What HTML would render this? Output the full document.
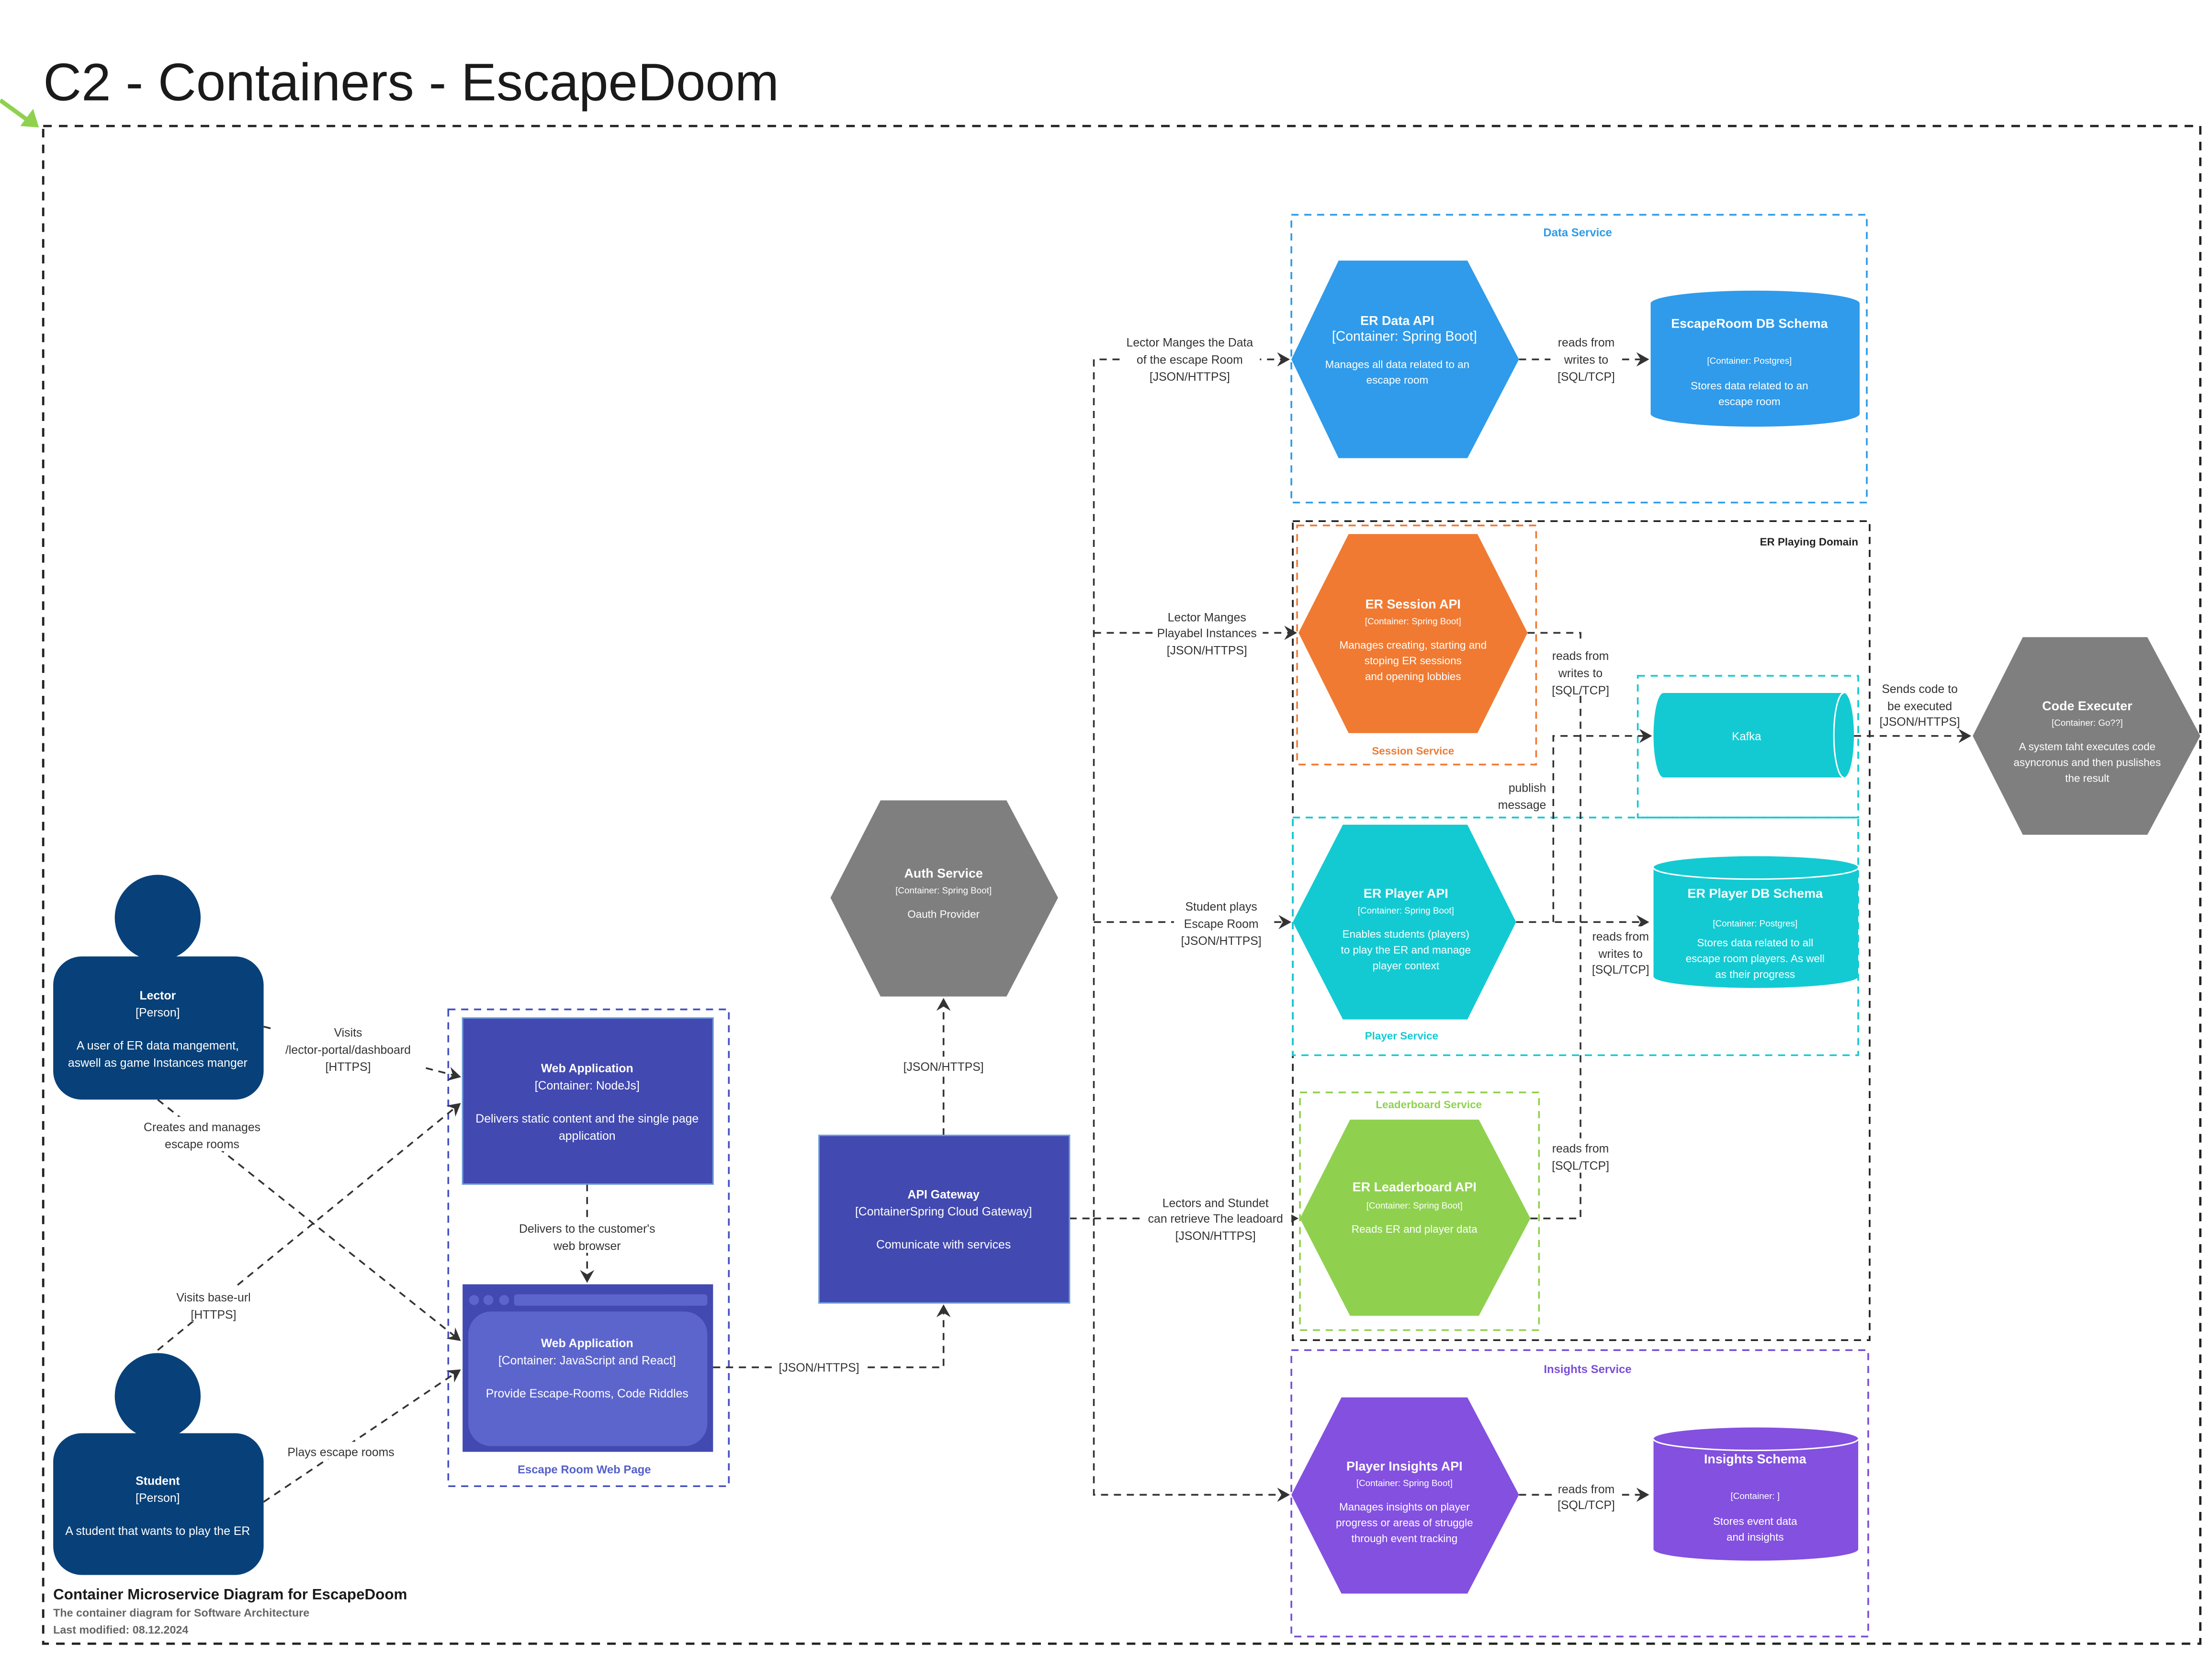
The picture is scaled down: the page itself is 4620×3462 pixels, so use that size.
<!DOCTYPE html>
<html><head><meta charset="utf-8"><style>
html,body{margin:0;padding:0;background:#fff;}
svg{display:block;}
text{font-family:"Liberation Sans",sans-serif;}
</style></head><body>
<svg width="4620" height="3462" viewBox="0 0 1545 1158" xmlns="http://www.w3.org/2000/svg">
<defs>
<marker id="a" markerWidth="10" markerHeight="10" refX="8" refY="5" orient="auto" markerUnits="userSpaceOnUse">
<path d="M0,0 L9,5 L0,10 L3,5 Z" fill="#333"/>
</marker>
</defs>
<rect width="1545" height="1158" fill="#fff"/>
<!-- title -->
<text x="30" y="70" font-size="37" fill="#1a1a1a">C2 - Containers - EscapeDoom</text>
<path d="M0,70 L22,86" stroke="#8fd14f" stroke-width="3"/>
<path d="M14,88 L27,89 L23,76 Z" fill="#8fd14f"/>
<rect x="30" y="88" width="1507" height="1060" fill="none" stroke="#222" stroke-width="1.6" stroke-dasharray="6,5"/>

<!-- boundaries -->
<rect x="902" y="150" width="402" height="201" fill="none" stroke="#2e9be8" stroke-width="1.2" stroke-dasharray="5,4"/>
<text x="1102" y="165" font-size="8" font-weight="bold" fill="#2e9be8" text-anchor="middle">Data Service</text>
<rect x="903" y="364" width="403" height="572" fill="none" stroke="#222" stroke-width="1.2" stroke-dasharray="5,4"/>
<text x="1298" y="381" font-size="7.5" font-weight="bold" fill="#222" text-anchor="end">ER Playing Domain</text>
<rect x="906" y="367" width="167" height="167" fill="none" stroke="#f07a32" stroke-width="1.2" stroke-dasharray="5,4"/>
<text x="987" y="527" font-size="7.5" font-weight="bold" fill="#f07a32" text-anchor="middle">Session Service</text>
<rect x="1144" y="472" width="154" height="99" fill="none" stroke="#13cad2" stroke-width="1.2" stroke-dasharray="5,4"/>
<rect x="903" y="571" width="395" height="166" fill="none" stroke="#13cad2" stroke-width="1.2" stroke-dasharray="5,4"/>
<text x="979" y="726" font-size="7.5" font-weight="bold" fill="#13cad2" text-anchor="middle">Player Service</text>
<rect x="908" y="763" width="167" height="166" fill="none" stroke="#8fd14f" stroke-width="1.2" stroke-dasharray="5,4"/>
<text x="998" y="774" font-size="7.5" font-weight="bold" fill="#8fd14f" text-anchor="middle">Leaderboard Service</text>
<rect x="902" y="943" width="403" height="200" fill="none" stroke="#7a4ed8" stroke-width="1.2" stroke-dasharray="5,4"/>
<text x="1109" y="959" font-size="8" font-weight="bold" fill="#7a4ed8" text-anchor="middle">Insights Service</text>
<rect x="313" y="705" width="196" height="333" fill="none" stroke="#4450c0" stroke-width="1.2" stroke-dasharray="5,4"/>
<text x="408" y="1029" font-size="8" font-weight="bold" fill="#5560c8" text-anchor="middle">Escape Room Web Page</text>

<!-- connectors -->
<g fill="none" stroke="#333" stroke-width="1.2" stroke-dasharray="5,4">
<path d="M747,851 L764,851 L764,251 L900,251" marker-end="url(#a)"/>
<path d="M764,442 L905,442" marker-end="url(#a)"/>
<path d="M764,644 L901,644" marker-end="url(#a)"/>
<path d="M764,851 L906,851" marker-end="url(#a)"/>
<path d="M764,851 L764,1044 L900,1044" marker-end="url(#a)"/>
<path d="M1061,251 L1151,251" marker-end="url(#a)"/>
<path d="M1067,442 L1104,442 L1104,644"/>
<path d="M1069,851 L1104,851 L1104,644"/>
<path d="M1059,644 L1151,644" marker-end="url(#a)"/>
<path d="M1085,644 L1085,514 L1153,514" marker-end="url(#a)"/>
<path d="M1295,514 L1376,514" marker-end="url(#a)"/>
<path d="M1061,1044 L1151,1044" marker-end="url(#a)"/>
<path d="M659,793 L659,698" marker-end="url(#a)"/>
<path d="M498,955 L659,955 L659,912" marker-end="url(#a)"/>
<path d="M410,827 L410,895" marker-end="url(#a)"/>
<path d="M184,717 L321,752" marker-end="url(#a)"/>
<path d="M110,768 L321,936" marker-end="url(#a)"/>
<path d="M110,943 L321,771" marker-end="url(#a)"/>
<path d="M184,1049 L321,957" marker-end="url(#a)"/>
</g>

<!-- connector labels -->
<g font-size="8.3" fill="#333" text-anchor="middle">
<rect x="782" y="232" width="98" height="36" fill="#fff"/>
<text x="831" y="242">Lector Manges the Data</text><text x="831" y="254">of the escape Room</text><text x="831" y="266">[JSON/HTTPS]</text>
<rect x="806" y="424" width="76" height="36" fill="#fff"/>
<text x="843" y="434">Lector Manges</text><text x="843" y="445">Playabel Instances</text><text x="843" y="457">[JSON/HTTPS]</text>
<rect x="820" y="626" width="66" height="36" fill="#fff"/>
<text x="853" y="636">Student plays</text><text x="853" y="648">Escape Room</text><text x="853" y="660">[JSON/HTTPS]</text>
<rect x="796" y="833" width="106" height="36" fill="#fff"/>
<text x="849" y="843">Lectors and Stundet</text><text x="849" y="854">can retrieve The leadoard</text><text x="849" y="866">[JSON/HTTPS]</text>
<rect x="1083" y="232" width="50" height="36" fill="#fff"/>
<text x="1108" y="242">reads from</text><text x="1108" y="254">writes to</text><text x="1108" y="266">[SQL/TCP]</text>
<rect x="1080" y="450" width="48" height="36" fill="#fff"/>
<text x="1104" y="461">reads from</text><text x="1104" y="473">writes to</text><text x="1104" y="485">[SQL/TCP]</text>
<rect x="1108" y="647" width="48" height="36" fill="#fff"/>
<text x="1132" y="657">reads from</text><text x="1132" y="669">writes to</text><text x="1132" y="680">[SQL/TCP]</text>
<rect x="1080" y="795" width="48" height="24" fill="#fff"/>
<text x="1104" y="805">reads from</text><text x="1104" y="817">[SQL/TCP]</text>
<rect x="1084" y="1032" width="48" height="24" fill="#fff"/>
<text x="1108" y="1043">reads from</text><text x="1108" y="1054">[SQL/TCP]</text>
<text x="1080" y="553" text-anchor="end">publish</text><text x="1080" y="565" text-anchor="end">message</text>
<rect x="1308" y="473" width="66" height="36" fill="#fff"/>
<text x="1341" y="484">Sends code to</text><text x="1341" y="496">be executed</text><text x="1341" y="507">[JSON/HTTPS]</text>
<rect x="628" y="738" width="62" height="12" fill="#fff"/>
<text x="659" y="748">[JSON/HTTPS]</text>
<rect x="542" y="948" width="62" height="12" fill="#fff"/>
<text x="572" y="958">[JSON/HTTPS]</text>
<rect x="355" y="851" width="110" height="24" fill="#fff"/>
<text x="410" y="861">Delivers to the customer's</text><text x="410" y="873">web browser</text>
<rect x="190" y="713" width="106" height="36" fill="#fff"/>
<text x="243" y="724">Visits</text><text x="243" y="736">/lector-portal/dashboard</text><text x="243" y="748">[HTTPS]</text>
<rect x="95" y="780" width="94" height="24" fill="#fff"/>
<text x="141" y="790">Creates and manages</text><text x="141" y="802">escape rooms</text>
<rect x="117" y="899" width="64" height="24" fill="#fff"/>
<text x="149" y="909">Visits base-url</text><text x="149" y="921">[HTTPS]</text>
<rect x="196" y="1007" width="84" height="12" fill="#fff"/>
<text x="238" y="1017">Plays escape rooms</text>
</g>

<!-- hexagons -->
<polygon points="902,251 935,182 1025,182 1061,251 1025,320 935,320" fill="#2f9bea"/>
<g fill="#fff" text-anchor="middle">
<text x="976" y="227" font-size="9" font-weight="bold">ER Data API</text>
<text x="981" y="238" font-size="9.5">[Container: Spring Boot]</text>
<text x="976" y="257" font-size="7.5">Manages all data related to an</text>
<text x="976" y="268" font-size="7.5">escape room</text>
</g>
<polygon points="907,442 942,373 1032,373 1067,442 1032,512 942,512" fill="#f07a32"/>
<g fill="#fff" text-anchor="middle">
<text x="987" y="425" font-size="9" font-weight="bold">ER Session API</text>
<text x="987" y="436" font-size="6.3">[Container: Spring Boot]</text>
<text x="987" y="453" font-size="7.5">Manages creating, starting and</text>
<text x="987" y="464" font-size="7.5">stoping ER sessions</text>
<text x="987" y="475" font-size="7.5">and opening lobbies</text>
</g>
<polygon points="903,644 938,576 1025,576 1059,644 1025,712 938,712" fill="#13cad2"/>
<g fill="#fff" text-anchor="middle">
<text x="982" y="627" font-size="9" font-weight="bold">ER Player API</text>
<text x="982" y="638" font-size="6.3">[Container: Spring Boot]</text>
<text x="982" y="655" font-size="7.5">Enables students (players)</text>
<text x="982" y="666" font-size="7.5">to play the ER and manage</text>
<text x="982" y="677" font-size="7.5">player context</text>
</g>
<polygon points="908,851 943,782 1033,782 1069,851 1033,919 943,919" fill="#8fd14f"/>
<g fill="#fff" text-anchor="middle">
<text x="988" y="832" font-size="9" font-weight="bold">ER Leaderboard API</text>
<text x="988" y="844" font-size="6.3">[Container: Spring Boot]</text>
<text x="988" y="861" font-size="7.5">Reads ER and player data</text>
</g>
<polygon points="902,1044 937,976 1025,976 1061,1044 1025,1113 937,1113" fill="#8350e0"/>
<g fill="#fff" text-anchor="middle">
<text x="981" y="1027" font-size="9" font-weight="bold">Player Insights API</text>
<text x="981" y="1038" font-size="6.3">[Container: Spring Boot]</text>
<text x="981" y="1055" font-size="7.5">Manages insights on player</text>
<text x="981" y="1066" font-size="7.5">progress or areas of struggle</text>
<text x="981" y="1077" font-size="7.5">through event tracking</text>
</g>
<polygon points="1378,514 1413,445 1500,445 1537,514 1500,583 1413,583" fill="#7f7f7f"/>
<g fill="#fff" text-anchor="middle">
<text x="1458" y="496" font-size="9" font-weight="bold">Code Executer</text>
<text x="1458" y="507" font-size="6.3">[Container: Go??]</text>
<text x="1458" y="524" font-size="7.5">A system taht executes code</text>
<text x="1458" y="535" font-size="7.5">asyncronus and then puslishes</text>
<text x="1458" y="546" font-size="7.5">the result</text>
</g>
<polygon points="580,627 615,559 703,559 739,627 703,696 615,696" fill="#7f7f7f"/>
<g fill="#fff" text-anchor="middle">
<text x="659" y="613" font-size="9" font-weight="bold">Auth Service</text>
<text x="659" y="624" font-size="6.3">[Container: Spring Boot]</text>
<text x="659" y="641" font-size="7.5">Oauth Provider</text>
</g>

<!-- cylinders -->
<path d="M1153,212 A73,9 0 0 1 1299,212 L1299,289 A73,9 0 0 1 1153,289 Z" fill="#2f9bea"/>
<g fill="#fff" text-anchor="middle">
<text x="1222" y="229" font-size="9" font-weight="bold">EscapeRoom DB Schema</text>
<text x="1222" y="254" font-size="6.3">[Container: Postgres]</text>
<text x="1222" y="272" font-size="7.5">Stores data related to an</text>
<text x="1222" y="283" font-size="7.5">escape room</text>
</g>
<path d="M1155,606 A71.5,8 0 0 1 1298,606 L1298,682 A71.5,8 0 0 1 1155,682 Z" fill="#13cad2"/>
<path d="M1155,606 A71.5,8 0 0 0 1298,606" fill="none" stroke="#fff" stroke-width="1"/>
<g fill="#fff" text-anchor="middle">
<text x="1226" y="627" font-size="9" font-weight="bold">ER Player DB Schema</text>
<text x="1226" y="647" font-size="6.3">[Container: Postgres]</text>
<text x="1226" y="661" font-size="7.5">Stores data related to all</text>
<text x="1226" y="672" font-size="7.5">escape room players. As well</text>
<text x="1226" y="683" font-size="7.5">as their progress</text>
</g>
<path d="M1155,1005 A71.5,8 0 0 1 1298,1005 L1298,1082 A71.5,8 0 0 1 1155,1082 Z" fill="#8350e0"/>
<path d="M1155,1005 A71.5,8 0 0 0 1298,1005" fill="none" stroke="#fff" stroke-width="1"/>
<g fill="#fff" text-anchor="middle">
<text x="1226" y="1022" font-size="9" font-weight="bold">Insights Schema</text>
<text x="1226" y="1047" font-size="6.3">[Container: ]</text>
<text x="1226" y="1065" font-size="7.5">Stores event data</text>
<text x="1226" y="1076" font-size="7.5">and insights</text>
</g>
<!-- kafka horizontal cylinder -->
<path d="M1162,484 L1288,484 A7,29.5 0 0 1 1288,543 L1162,543 A7,29.5 0 0 1 1162,484 Z" fill="#13cad2"/>
<path d="M1288,484 A7,29.5 0 0 0 1288,543" fill="none" stroke="#fff" stroke-width="1"/>
<text x="1220" y="517" font-size="8" fill="#fff" text-anchor="middle">Kafka</text>

<!-- API gateway -->
<rect x="572" y="793" width="175" height="117" fill="#4249b0" stroke="#6e9bd8" stroke-width="1"/>
<g fill="#fff" text-anchor="middle">
<text x="659" y="837" font-size="8.3" font-weight="bold">API Gateway</text>
<text x="659" y="849" font-size="8.3">[ContainerSpring Cloud Gateway]</text>
<text x="659" y="872" font-size="8.3">Comunicate with services</text>
</g>

<!-- web apps -->
<rect x="323" y="711" width="175" height="116" fill="#4249b0" stroke="#6e9bd8" stroke-width="1"/>
<g fill="#fff" text-anchor="middle">
<text x="410" y="749" font-size="8.3" font-weight="bold">Web Application</text>
<text x="410" y="761" font-size="8.3">[Container: NodeJs]</text>
<text x="410" y="784" font-size="8.3">Delivers static content and the single page</text>
<text x="410" y="796" font-size="8.3">application</text>
</g>
<rect x="323" y="897" width="175" height="117" fill="#4249b0"/>
<circle cx="331" cy="908" r="3.5" fill="#5c65cc"/><circle cx="341" cy="908" r="3.5" fill="#5c65cc"/><circle cx="352" cy="908" r="3.5" fill="#5c65cc"/>
<rect x="359" y="904" width="135" height="8" rx="2" fill="#5c65cc"/>
<rect x="327" y="916" width="167" height="94" rx="16" fill="#5c65cc"/>
<g fill="#fff" text-anchor="middle">
<text x="410" y="941" font-size="8.3" font-weight="bold">Web Application</text>
<text x="410" y="953" font-size="8.3">[Container: JavaScript and React]</text>
<text x="410" y="976" font-size="8.3">Provide Escape-Rooms, Code Riddles</text>
</g>

<!-- persons -->
<circle cx="110" cy="641" r="30" fill="#084179"/>
<rect x="37" y="668" width="147" height="100" rx="20" fill="#084179"/>
<g fill="#fff" text-anchor="middle" font-size="8.3">
<text x="110" y="698" font-weight="bold">Lector</text>
<text x="110" y="710">[Person]</text>
<text x="110" y="733">A user of ER data mangement,</text>
<text x="110" y="745">aswell as game Instances manger</text>
</g>
<circle cx="110" cy="975" r="30" fill="#084179"/>
<rect x="37" y="1001" width="147" height="99" rx="20" fill="#084179"/>
<g fill="#fff" text-anchor="middle" font-size="8.3">
<text x="110" y="1037" font-weight="bold">Student</text>
<text x="110" y="1049">[Person]</text>
<text x="110" y="1072">A student that wants to play the ER</text>
</g>

<!-- footer -->
<text x="37" y="1117" font-size="10.5" font-weight="bold" fill="#1a1a1a">Container Microservice Diagram for EscapeDoom</text>
<text x="37" y="1129" font-size="7.8" font-weight="bold" fill="#666">The container diagram for Software Architecture</text>
<text x="37" y="1141" font-size="7.8" font-weight="bold" fill="#666">Last modified: 08.12.2024</text>
</svg>
</body></html>
